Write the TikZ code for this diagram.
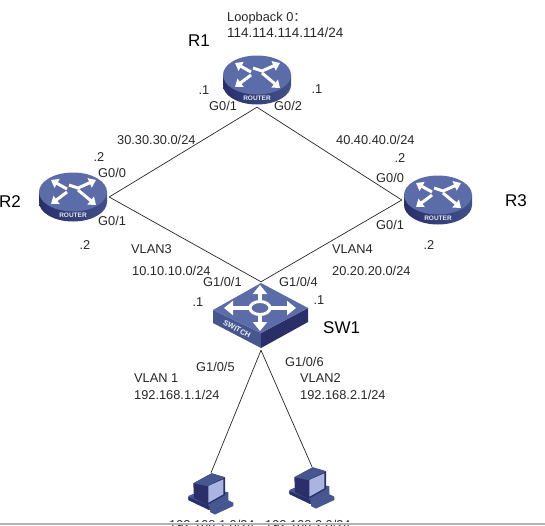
\documentclass[tikz,border=0pt]{standalone}
\usepackage{xcolor}
\usepackage{fontspec}
\setmainfont{Liberation Sans}
\newfontfamily\cjk{Noto Sans CJK SC}
\usetikzlibrary{arrows.meta,positioning}
\definecolor{icontop}{HTML}{5B6CA8}
\definecolor{iconmid}{HTML}{46568F}
\definecolor{icondark}{HTML}{2A2F6A}
\definecolor{iconscreen}{HTML}{A9B4E0}
\definecolor{bandgray}{HTML}{B4B4B4}
\begin{document}
\begin{tikzpicture}[x=1pt,y=-1pt,font=\fontsize{12.8}{14}\selectfont,
  lab/.style={anchor=west,inner sep=0pt,text=black!85},
  dot/.style={inner sep=0pt,text=black!85},
  devname/.style={anchor=west,inner sep=0pt,font=\fontsize{17}{19}\selectfont},
  routerbox/.style={minimum width=72pt,minimum height=54pt,inner sep=0pt},
  switchbox/.style={minimum width=96pt,minimum height=68pt,inner sep=0pt},
  pcbox/.style={minimum width=46pt,minimum height=42pt,inner sep=0pt},
  link/.style={draw=black!85,line width=0.7pt},
  arr/.style={draw=white,line width=3pt,-{Triangle[length=7pt,width=10pt]}},
  bigarr/.style={draw=white,line width=4pt,-{Triangle[length=9pt,width=14pt]}},
  routericon/.pic={
    \shade[left color=icondark,right color=iconmid!85!icondark] (-34,-5) -- (-34,5) arc[start angle=180,end angle=360,x radius=34,y radius=-19.5] -- (34,-5) -- cycle;
    \fill[icontop] (0,-5) ellipse[x radius=34,y radius=19.5];
    \draw[arr] (-6,-8) -- (-22,-17);
    \draw[arr] (-4,-12) -- (5,-9) -- (23,-17);
    \draw[arr] (-6,-5) -- (-22,7);
    \draw[arr] (5,-7) -- (23,8);
    \node[inner sep=0pt,text=white!85!icontop,font=\fontsize{6.5}{7}\bfseries\selectfont] (-lab) at (0,18) {ROUTER};
  },
  switchicon/.pic={
    \fill[iconmid] (-48,-6) -- (0,17) -- (0,32) -- (-48,7) -- cycle;
    \fill[icondark] (47,-8) -- (0,17) -- (0,32) -- (47,6) -- cycle;
    \fill[icontop] (0,-33) -- (-48,-6) -- (0,17) -- (47,-8) -- cycle;
    \draw[bigarr] (-1,-15) -- (-1,-31);
    \draw[bigarr] (-1,-1) -- (-1,15);
    \draw[bigarr] (-11,-8) -- (-37,-8);
    \draw[bigarr] (9,-8) -- (35,-8);
    \draw[white,fill=icontop,line width=3pt] (-1,-8) ellipse[x radius=10,y radius=6.5];
    \node[inner sep=0pt,rotate=-28,text=white!90!icontop,font=\fontsize{7.5}{8}\bfseries\selectfont] (-lab) at (-24,13) {SWITCH};
  },
  pcicon/.pic={
    \fill[iconmid] (-22.7,2) -- (-4,-6) -- (17.3,-1.7) -- (17.3,6) -- (-1.7,16) -- (-22.7,6) -- cycle;
    \fill[icondark] (-22.7,3) -- (-1.7,12) -- (-1.7,16) -- (-22.7,6) -- cycle;
    \fill[iconmid] (-1,15) -- (17,6) -- (22.3,8.7) -- (22.3,12) -- (4,20.5) -- (-1,18) -- cycle;
    \fill[icondark] (-17.7,-10.7) -- (0.7,-20.7) -- (14,-16.7) -- (14,1) -- (-3.7,11) -- (-17,4.3) -- cycle;
    \fill[iconmid] (-17.7,-10.7) -- (0.7,-20.7) -- (14,-16.7) -- (-3.7,-8) -- cycle;
    \fill[iconscreen] (-2.7,-8) -- (12.3,-14.7) -- (12.3,0.3) -- (-2.7,8.7) -- cycle;
  }]
  \useasboundingbox (0,0) rectangle (545,525);
  \node[routerbox] (r1) at (257,80) {};
  \node[routerbox] (r2) at (73,197) {};
  \node[routerbox] (r3) at (438,200) {};
  \node[switchbox] (sw1) at (261,316) {};
  \node[pcbox] (pc1) at (211,494) {};
  \node[pcbox] (pc2) at (312,488) {};
  \foreach \n in {r1,r2,r3} \pic (\n icon) at (\n) {routericon};
  \pic (sw1icon) at (sw1) {switchicon};
  \foreach \n in {pc1,pc2} \pic (\n icon) at (\n) {pcicon};
  \draw[link] (r1.south) -- (r2.east);
  \draw[link] (r1.south) -- (r3.west);
  \draw[link] (r2.east) -- (sw1.north);
  \draw[link] (r3.west) -- (sw1.north);
  \draw[link] (sw1.south) -- (pc1.north);
  \draw[link] (sw1.south) -- (pc2.north);
  % names
  \node[devname] (nr1) at (188,41) {R1};
  \node[devname] (nr2) at (-1,202) {R2};
  \node[devname] (nr3) at (505,201) {R3};
  \node[devname] (nsw1) at (323,328) {SW1};
  % R1
  \node[lab] (loop) at (227,18) {Loopback 0{\cjk ：}};
  \node[lab,font=\fontsize{13.5}{15}\selectfont] (loopip) at (227,33) {114.114.114.114/24};
  \node[dot] (d1) at (204,90) {.1};
  \node[dot] (d2) at (317,89) {.1};
  \node[lab] (g1) at (209,106) {G0/1};
  \node[lab] (g2) at (274,106) {G0/2};
  % R2
  \node[lab] (net30) at (117,140) {30.30.30.0/24};
  \node[dot] (d3) at (99,157) {.2};
  \node[lab] (g3) at (98,173) {G0/0};
  \node[lab] (g4) at (98,221) {G0/1};
  \node[dot] (d4) at (85,245) {.2};
  \node[lab] (vl3) at (131,249) {VLAN3};
  \node[lab] (net10) at (132,271) {10.10.10.0/24};
  % R3
  \node[lab] (net40) at (336,140) {40.40.40.0/24};
  \node[dot] (d5) at (400,158) {.2};
  \node[lab] (g5) at (376,178) {G0/0};
  \node[lab] (g6) at (376,225) {G0/1};
  \node[dot] (d6) at (429,245) {.2};
  \node[lab] (vl4) at (332,249) {VLAN4};
  \node[lab] (net20) at (332,271) {20.20.20.0/24};
  % SW1
  \node[lab] (g7) at (203,282) {G1/0/1};
  \node[lab] (g8) at (279,282) {G1/0/4};
  \node[dot] (d7) at (198,302) {.1};
  \node[dot] (d8) at (319,300) {.1};
  \node[lab] (g9) at (196,367) {G1/0/5};
  \node[lab] (g10) at (285,362) {G1/0/6};
  \node[lab] (vl1) at (134,378) {VLAN 1};
  \node[lab] (ip1) at (134,395) {192.168.1.1/24};
  \node[lab] (vl2) at (300,378) {VLAN2};
  \node[lab] (ip2) at (300,395) {192.168.2.1/24};
  % hosts, cut by the band
  \node[lab] (net1) at (169,525) {192.168.1.0/24};
  \node[lab] (net2) at (265,525) {192.168.2.0/24};
  \fill[white] (0,522) rectangle (545,523);
  \fill[bandgray] (0,523) rectangle (545,525);
\end{tikzpicture}
\end{document}
